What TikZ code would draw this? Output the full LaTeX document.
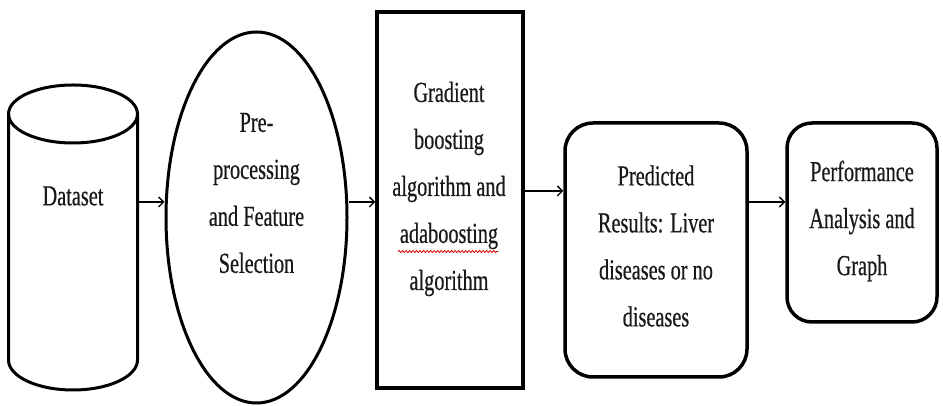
\documentclass[tikz,border=0pt]{standalone}
\usepackage{fontspec}
\setmainfont[FakeStretch=0.7,FakeBold=0.5]{Liberation Serif}
\usetikzlibrary{shapes.geometric,arrows.meta,decorations.pathmorphing}
\tikzset{
  boxline/.style={draw=black, line width=3pt},
  txt/.style={align=center, inner sep=0pt, text=black!90, font=\fontsize{29}{47}\selectfont},
  arr/.style={draw=black, line width=1.3pt, -{Straight Barb[length=5pt,width=10pt,line width=1.3pt]}},
}
\begin{document}
\begin{tikzpicture}[x=1pt,y=1pt]
\useasboundingbox[fill=white] (0,0) rectangle (943,406);
% cylinder
\draw[boxline] (8.5,292) -- (8.5,46) arc[start angle=180,end angle=360,x radius=64.5,y radius=30] -- (137.5,292);
\draw[boxline] (73,292) ellipse[x radius=64.5,y radius=29];
\node[txt] (ds) at (73,210) {Dataset};
\coordinate (dsR) at (137.5,204);
% ellipse
\node[boxline, ellipse, minimum width=181pt, minimum height=371pt, inner sep=0pt] (pp) at (256.5,188.5) {};
\node[txt] (ppt) at (256.5,213) {Pre-\\processing\\and Feature\\Selection};
% rectangle
\node[boxline, line width=3.5pt, rectangle, minimum width=146pt, minimum height=376pt, inner sep=0pt] (gb) at (450,206) {};
\node[txt] (gbt) at (449,217) {Gradient\\boosting\\algorithm and\\adaboosting\\algorithm};
\draw[red!85!black, line width=0.8pt, decorate, decoration={snake, amplitude=1.1pt, segment length=3.5pt}] (398,154.5) -- (498,154.5);
% rounded rect 1
\node[boxline, line width=3.5pt, rectangle, rounded corners=28pt, minimum width=182pt, minimum height=254pt, inner sep=0pt] (pr) at (656,156) {};
\node[txt] (prt) at (656,160) {Predicted\\Results: Liver\\diseases or no\\diseases};
% rounded rect 2
\node[boxline, line width=3.5pt, rectangle, rounded corners=25pt, minimum width=150pt, minimum height=199pt, inner sep=0pt] (pa) at (862,183.5) {};
\node[txt] (pat) at (862,185) {Performance\\Analysis and\\Graph};
% connectors
\coordinate (r1) at (0,204);
\coordinate (r2) at (0,215);
\draw[arr] (dsR) -- (dsR -| pp.west);
\draw[arr] (pp.east |- r1) -- (gb.west |- r1);
\draw[arr] (gb.east |- r2) -- (pr.west |- r2);
\draw[arr] (pr.east |- r1) -- (pa.west |- r1);
\end{tikzpicture}
\end{document}
